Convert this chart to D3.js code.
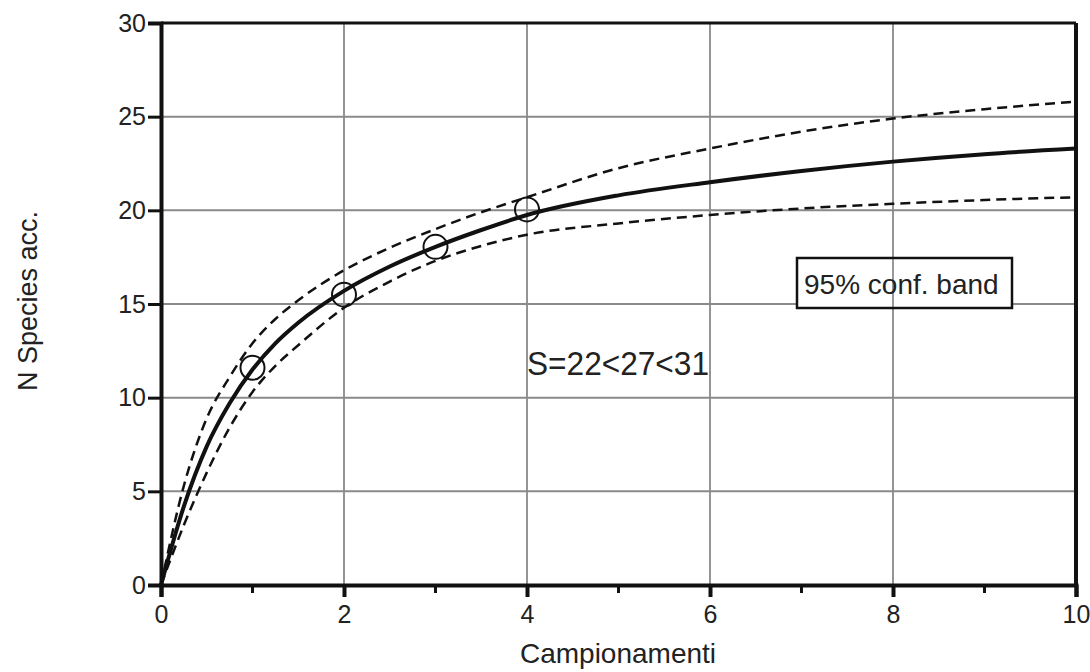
<!DOCTYPE html>
<html><head><meta charset="utf-8">
<script src="https://cdn.jsdelivr.net/npm/d3@7"></script>
<style>body{margin:0;background:#fff}svg{display:block}text{font-family:Arial,"Liberation Sans",sans-serif;fill:#222}</style>
</head><body>
<svg id="c" width="1090" height="672"></svg>
<script>
const xs =      [0, 0.25, 0.5, 0.75, 1,    1.25, 1.5,  2,    2.5,  3,     3.5,   4,     5,     6,     7,    8,     9,     10];
const fitted =  [0, 4.2,  7.4, 9.7,  11.5, 12.9, 14.0, 15.7, 17.0, 18.05, 18.95, 19.75, 20.8,  21.5,  22.1, 22.6,  23.0,  23.3];
const upper =   [0, 5.3,  8.9, 11.1, 12.9, 14.2, 15.2, 16.8, 18.0, 19.0,  19.9,  20.7,  22.25, 23.3,  24.2, 24.9,  25.4,  25.8];
const lower =   [0, 3.2,  6.0, 8.4,  10.3, 11.7, 12.8, 14.8, 16.2, 17.3,  18.1,  18.7,  19.3,  19.75, 20.1, 20.35, 20.55, 20.7];
const obsX = [1, 2, 3, 4];
const obsY = [11.6, 15.5, 18.05, 20.05];
const xTicks = [0, 2, 4, 6, 8, 10];
const xMinor = [1, 3, 5, 7, 9];
const yTicks = [0, 5, 10, 15, 20, 25, 30];
const xTitle = "Campionamenti";
const yTitle = "N Species acc.";
const bandLabel = "95% conf. band";
const estLabel = "S=22<27<31";

const svg = d3.select("#c");
const L = 161, R = 1076, T = 23, B = 585;
const x = d3.scaleLinear().domain([0, 10]).range([L, R]);
const y = d3.scaleLinear().domain([0, 30]).range([B, T]);
const FF = "Arial, 'Liberation Sans', sans-serif";

// grid
svg.append("g").selectAll("line").data(xTicks.filter(d => d > 0 && d < 10)).join("line")
  .attr("x1", d => x(d)).attr("x2", d => x(d)).attr("y1", T).attr("y2", B)
  .attr("stroke", "#7a7a7a").attr("stroke-width", 1.6);
svg.append("g").selectAll("line").data(yTicks.filter(d => d > 0 && d < 30)).join("line")
  .attr("x1", L).attr("x2", R).attr("y1", d => y(d)).attr("y2", d => y(d))
  .attr("stroke", "#8a8a8a").attr("stroke-width", 2);

// frame
svg.append("line").attr("x1", L).attr("x2", R).attr("y1", T).attr("y2", T).attr("stroke", "#111").attr("stroke-width", 3);
svg.append("line").attr("x1", R).attr("x2", R).attr("y1", T).attr("y2", B).attr("stroke", "#111").attr("stroke-width", 4);

// axes
const yAxis = svg.append("g").attr("transform", `translate(${L},0)`)
  .call(d3.axisLeft(y).tickValues(yTicks).tickSize(13).tickPadding(2));
yAxis.select(".domain").attr("stroke", "#111").attr("stroke-width", 4);
yAxis.selectAll(".tick line").attr("stroke", "#111").attr("stroke-width", 3);
yAxis.selectAll(".tick text").attr("font-size", 25).attr("fill", "#222").attr("font-family", FF);

const xAxis = svg.append("g").attr("transform", `translate(0,${B})`)
  .call(d3.axisBottom(x).tickValues(xTicks).tickSize(12).tickPadding(8));
xAxis.select(".domain").attr("stroke", "#111").attr("stroke-width", 4);
xAxis.selectAll(".tick line").attr("stroke", "#111").attr("stroke-width", 4);
xAxis.selectAll(".tick text").attr("font-size", 25).attr("fill", "#222").attr("font-family", FF);
svg.append("g").selectAll("line").data(xMinor).join("line")
  .attr("x1", d => x(d)).attr("x2", d => x(d)).attr("y1", B).attr("y2", B + 8)
  .attr("stroke", "#111").attr("stroke-width", 3);

// curves
const line = d3.line().x(d => x(d[0])).y(d => y(d[1])).curve(d3.curveMonotoneX);
const mk = arr => xs.map((v, i) => [v, arr[i]]);
svg.append("path").attr("d", line(mk(upper))).attr("fill", "none").attr("stroke", "#111").attr("stroke-width", 2.5).attr("stroke-dasharray", "10,6");
svg.append("path").attr("d", line(mk(lower))).attr("fill", "none").attr("stroke", "#111").attr("stroke-width", 2.5).attr("stroke-dasharray", "10,6");
svg.append("path").attr("d", line(mk(fitted))).attr("fill", "none").attr("stroke", "#111").attr("stroke-width", 4);

// observed points
svg.append("g").selectAll("circle").data(obsX).join("circle")
  .attr("cx", d => x(d)).attr("cy", (d, i) => y(obsY[i])).attr("r", 12)
  .attr("fill", "none").attr("stroke", "#111").attr("stroke-width", 2);

// labels
svg.append("text").attr("x", 618).attr("y", 663).attr("text-anchor", "middle").attr("font-size", 28).text(xTitle);
svg.append("text").attr("transform", "translate(37,301) rotate(-90)").attr("text-anchor", "middle").attr("font-size", 27).text(yTitle);
svg.append("text").attr("x", 527).attr("y", 375).attr("font-size", 33).attr("textLength", 182).attr("lengthAdjust", "spacingAndGlyphs").text(estLabel);

// band legend box
svg.append("rect").attr("x", 797).attr("y", 258).attr("width", 215).attr("height", 50)
  .attr("fill", "#fff").attr("stroke", "#111").attr("stroke-width", 2.5);
svg.append("line").attr("x1", x(8)).attr("x2", x(8)).attr("y1", 259).attr("y2", 307).attr("stroke", "#555").attr("stroke-width", 1.2);
svg.append("text").attr("x", 804).attr("y", 294).attr("font-size", 28).text(bandLabel);
</script>
</body></html>
